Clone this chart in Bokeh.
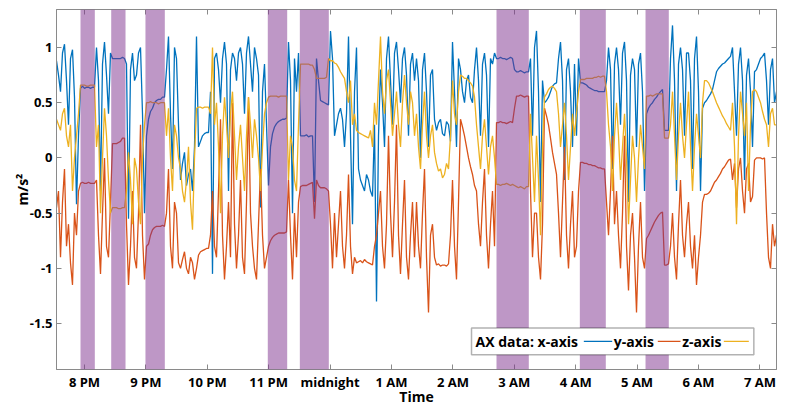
import numpy as np
from bokeh.plotting import figure
from bokeh.models import Range1d, FixedTicker, BoxAnnotation, Label, LinearAxis
from bokeh.embed import file_html
from bokeh.resources import INLINE

# ---- data (time in hours; 24 = midnight) ----
t_start = 19.544          # first sample time (h)
t_step = 0.032573         # sampling step (h)

x_axis = [
    0.88, 0.75, 0.60, 0.95, 1.03, 0.70, 0.30, 0.90, 0.98, 0.55, -0.42, 0.20, 0.63, 0.65, 0.63, 0.64, 0.64, 0.63, 0.64, 0.64,
    1.00, 0.70, -0.30, 0.85, 1.05, 0.75, 0.40, 0.95, 0.90, 0.90, 0.90, 0.90, 0.90, 0.91, 0.90, 0.85, -0.55, 0.80, 0.95, 0.70,
    0.75, 0.95, 1.00, 0.40, -0.50, 0.20, 0.35, 0.42, 0.45, 0.50, 0.52, 0.53, 0.53, 0.55, 0.55, 0.80, 1.10, 0.40, -0.10, 1.00,
    0.90, 0.30, -0.20, -0.05, 0.05, -0.25, -0.15, -0.10, -0.30, 0.10, 1.10, 0.10, 0.15, 0.20, 0.22, 0.23, 0.23, 0.60, -1.05, 0.90,
    0.95, 0.80, 0.50, 0.90, 1.05, 0.85, -0.30, 0.80, 0.95, 0.90, 0.70, 0.95, 1.00, 0.85, 0.40, 0.95, 1.10, 0.85, 0.60, 1.00,
    0.90, 0.75, -0.45, 0.60, 0.85, 0.30, -0.25, 0.10, 0.22, 0.28, 0.31, 0.33, 0.34, 0.35, 0.35, 0.36, 1.05, 0.70, -0.50, 0.90,
    0.60, 0.95, 0.20, 0.20, 0.20, 0.21, 0.19, 0.20, 0.20, -0.40, 0.90, 0.70, 0.52, 0.51, 0.50, 0.49, 0.48, 1.15, 0.90, 0.20,
    0.30, 0.40, 0.45, 0.35, 0.10, 0.40, 1.10, 0.20, -0.60, 0.60, 1.00, -0.10, -0.20, -0.25, -0.30, -0.15, -0.20, -0.30, -0.35, 0.30,
    -1.30, 0.20, 0.80, 0.50, 0.10, 0.90, 1.10, 0.70, 0.30, 0.95, 1.05, 0.80, 0.50, 0.90, 1.00, 0.75, 0.20, 0.85, 0.95, 0.70,
    0.90, 0.70, 0.00, 0.80, 0.95, 0.60, 0.10, 0.75, 0.80, 0.35, 0.25, 0.32, 0.35, 0.22, 0.20, 0.33, 0.30, 0.15, 1.05, 0.60,
    0.10, 0.90, 0.80, 0.60, 0.50, 0.70, 0.75, 0.55, 0.50, 0.80, 1.00, 0.70, 0.20, 0.85, 0.95, 0.75, 0.10, 0.90, 0.85, 0.95,
    0.90, 0.90, 0.91, 0.90, 0.90, 0.89, 0.90, 0.91, 0.90, 0.80, 0.78, 0.78, 0.79, 0.78, 0.77, 0.78, 0.78, 0.90, 0.20, 1.00,
    1.15, 0.60, -0.40, 0.70, 0.50, 0.52, 0.55, 0.60, 0.65, 0.67, 0.68, 0.90, 1.05, 0.70, -0.20, 0.80, 0.90, 0.60, 0.10, 0.85,
    0.20, 0.90, 0.68, 0.68, 0.67, 0.66, 0.64, 0.63, 0.62, 0.61, 0.61, 0.60, 0.60, 0.60, 0.60, 0.70, 1.00, 0.80, -0.10, 0.85,
    1.00, 0.80, 0.30, 0.95, 1.05, 0.70, -0.40, 0.75, 0.90, 0.80, 0.10, 0.85, 0.95, 0.60, -0.30, 0.40, 0.45, 0.48, 0.50, 0.53,
    0.55, 0.58, 0.60, 0.62, 0.25, 0.25, 0.25, 0.90, 1.20, 0.70, -0.30, 0.85, 1.00, 0.80, 0.20, 0.95, 0.95, 0.70, -0.10, 0.90,
    1.10, 0.60, -0.30, 0.45, 0.50, 0.52, 0.55, 0.58, 0.62, 0.70, 0.78, 0.81, 0.83, 0.85, 0.86, 0.88, 0.90, 0.92, 1.00, 0.60,
    0.20, 0.85, 1.00, 0.70, -0.20, 0.75, 0.90, 0.60, 0.10, 0.78, 0.80, 0.85, 0.90, 0.92, 0.95, 0.70, 0.30, 0.80, 0.90, 0.50,
    0.60,
]

y_axis = [
    -0.45, -0.30, -0.90, -0.40, -0.10, -0.80, -0.60, -0.95, -1.15, -0.50, -0.70, -0.30, -0.23, -0.22, -0.23, -0.23, -0.22, -0.23, -0.23, -0.23,
    -0.20, -0.70, -1.05, -0.50, 0.00, -0.80, -0.90, -0.40, 0.13, 0.13, 0.13, 0.14, 0.15, 0.18, 0.18, -0.60, -1.15, -0.80, -0.30, -0.90,
    -1.00, -0.50, 0.30, -0.70, -1.10, -0.80, -0.78, -0.70, -0.65, -0.63, -0.62, -0.62, -0.62, -0.61, -0.62, -0.50, -0.10, -0.80, -1.00, -0.40,
    -0.50, -0.95, -1.00, -0.92, -0.85, -1.00, -1.05, -0.90, -0.95, -1.10, -1.00, -0.88, -0.85, -0.84, -0.83, -0.82, -0.82, -0.70, -0.30, -0.80,
    -0.90, -0.30, 0.35, -0.70, -1.10, -0.80, -0.40, -0.90, 0.50, -0.60, -1.00, -0.70, -0.20, -0.90, -1.05, -0.40, 0.55, -0.50, -0.80, -1.00,
    -1.10, -0.60, -0.10, -0.70, -1.00, -0.90, -0.80, -0.75, -0.72, -0.70, -0.69, -0.68, -0.68, -0.68, -0.68, -0.67, -0.20, -0.70, -1.10, -0.50,
    -0.90, -0.40, -0.26, -0.25, -0.25, -0.25, -0.24, -0.23, -0.22, -0.55, -0.20, -0.25, -0.27, -0.27, -0.27, -0.28, -0.30, -0.60, -1.00, -0.50,
    -0.90, -0.60, -0.30, -0.80, -1.00, -0.70, -0.15, -0.80, -1.05, -0.90, -0.95, -0.94, -0.93, -0.95, -0.92, -0.94, -0.95, -0.96, -0.97, -0.80,
    -0.70, -0.50, -0.30, -0.80, -1.00, -0.60, 0.20, -0.50, -0.90, -0.40, 0.30, -0.70, -1.05, -0.60, -0.20, -0.90, -1.10, -0.70, -0.40, -0.90,
    -0.40, -0.80, -1.00, -0.50, -0.10, -0.90, -1.40, -0.70, -0.60, -0.90, -0.97, -0.96, -0.98, -0.97, -0.97, -0.98, -0.96, -0.70, -0.20, -0.80,
    -1.10, -0.40, 0.35, 0.28, 0.20, 0.10, 0.00, -0.08, -0.15, -0.25, -0.30, -0.60, -0.80, -0.40, -0.10, -0.70, -1.00, -0.60, -0.30, -0.80,
    0.32, 0.32, 0.33, 0.32, 0.32, 0.31, 0.32, 0.33, 0.32, 0.45, 0.56, 0.56, 0.57, 0.56, 0.55, 0.56, 0.56, -0.30, -0.90, -0.50,
    -0.50, -0.90, -1.10, -0.60, 0.45, 0.38, 0.30, 0.18, 0.05, -0.05, -0.15, -0.50, -0.90, -0.40, 0.10, -0.70, -1.00, -0.60, -0.30, -0.90,
    -0.80, -0.30, -0.04, -0.04, -0.05, -0.05, -0.06, -0.06, -0.07, -0.07, -0.08, -0.09, -0.09, -0.10, -0.10, -0.40, -0.70, -0.30, 0.20, -0.60,
    -0.30, -0.70, -1.00, -0.50, 0.20, -0.80, -1.20, -0.70, -0.50, -0.90, -1.40, -0.80, -0.40, -0.90, -1.00, -0.73, -0.70, -0.66, -0.62, -0.58,
    -0.55, -0.52, -0.50, -0.49, -0.97, -0.97, -0.96, -0.80, -0.50, -0.90, -1.10, -0.60, -0.20, -0.70, -0.90, -0.60, -0.40, -0.80, -1.00, -0.70,
    -1.15, -0.90, -0.70, -0.40, -0.33, -0.33, -0.32, -0.30, -0.26, -0.22, -0.20, -0.17, -0.14, -0.10, -0.08, -0.05, -0.02, -0.01, -0.20, -0.05,
    -0.45, -0.10, 0.00, -0.30, -0.50, -0.10, -0.05, -0.40, -0.35, -0.02, 0.00, 0.00, 0.00, -0.01, 0.00, -0.50, -0.90, -1.00, -0.60, -0.80,
    -0.70,
]

z_axis = [
    0.35, 0.30, 0.25, 0.40, 0.45, 0.20, 0.10, 0.30, -0.30, 0.00, 0.20, 0.40, 0.66, 0.66, 0.66, 0.65, 0.65, 0.66, 0.66, 0.66,
    0.10, 0.30, -0.50, 0.00, 0.45, 0.20, -0.20, -0.50, -0.45, -0.45, -0.45, -0.46, -0.46, -0.45, -0.45, -0.30, 0.05, -0.20, -0.60, 0.00,
    -0.10, -0.40, -0.60, 0.00, 0.30, 0.50, 0.50, 0.51, 0.50, 0.50, 0.50, 0.49, 0.50, 0.50, 0.50, 0.20, 0.45, 0.00, -0.30, 0.30,
    0.20, 0.00, -0.10, -0.30, -0.40, -0.20, 0.10, -0.40, -0.65, 0.00, 0.45, 0.46, 0.46, 0.45, 0.46, 0.46, 0.46, 0.40, 1.00, 0.30,
    0.50, 0.10, -0.50, 0.20, 0.55, 0.30, 0.00, 0.40, 0.60, 0.20, -0.20, 0.10, 0.30, 0.00, -0.30, 0.20, 0.55, 0.30, 0.00, 0.35,
    0.20, 0.00, -0.30, 0.10, 0.40, 0.50, 0.55, 0.56, 0.56, 0.56, 0.56, 0.55, 0.56, 0.56, 0.56, 0.56, -0.20, 0.20, 0.10, -0.20,
    -0.30, 0.30, 0.85, 0.85, 0.85, 0.85, 0.85, 0.84, 0.84, 0.80, 0.72, 0.72, 0.72, 0.72, 0.72, 0.73, 0.90, 0.88, 0.88, 0.86,
    0.85, 0.82, 0.78, 0.75, 0.72, 0.60, 0.50, 0.70, 0.30, 0.40, 0.25, 0.23, 0.22, 0.21, 0.20, 0.19, 0.18, 0.25, 0.10, 0.50,
    0.30, 0.70, 1.10, 0.60, 0.40, 0.70, 0.80, 0.50, 0.20, 0.40, 0.60, 0.30, 0.10, 0.50, 0.75, 0.50, 0.30, 0.60, 0.50, 0.20,
    0.40, 0.10, -0.10, 0.30, 0.60, 0.20, 0.00, 0.20, 0.30, 0.05, -0.05, -0.12, -0.10, -0.18, -0.15, -0.05, -0.10, 0.20, 0.70, 0.40,
    0.30, 0.60, 0.75, 0.74, 0.72, 0.72, 0.70, 0.68, 0.65, 0.55, 0.30, 0.10, -0.10, 0.20, 0.35, 0.10, -0.15, 0.10, 0.20, 0.00,
    -0.24, -0.24, -0.25, -0.24, -0.24, -0.23, -0.24, -0.25, -0.24, -0.25, -0.26, -0.27, -0.26, -0.27, -0.28, -0.26, -0.26, 0.40, 0.00, -0.40,
    0.20, -0.20, -0.70, 0.10, 0.55, 0.58, 0.62, 0.64, 0.65, 0.63, 0.60, 0.40, 0.10, 0.30, 0.50, 0.20, -0.20, 0.10, 0.40, 0.20,
    0.40, 0.60, 0.71, 0.71, 0.71, 0.72, 0.72, 0.72, 0.72, 0.73, 0.73, 0.74, 0.73, 0.74, 0.74, 0.60, 0.30, 0.10, -0.30, 0.20,
    0.50, 0.20, -0.20, 0.10, 0.40, 0.00, -0.60, -0.20, 0.20, 0.00, -0.40, 0.00, 0.30, 0.10, -0.10, 0.56, 0.56, 0.57, 0.56, 0.57,
    0.58, 0.58, 0.58, 0.58, 0.18, 0.18, 0.18, 0.30, 0.60, 0.20, -0.20, 0.20, 0.50, 0.20, 0.00, 0.30, 0.60, 0.10, -0.30, 0.10,
    0.40, 0.20, 0.00, 0.50, 0.70, 0.70, 0.68, 0.64, 0.60, 0.55, 0.50, 0.46, 0.42, 0.38, 0.35, 0.31, 0.28, 0.25, 0.50, 0.10,
    -0.60, 0.20, 0.60, 0.40, 0.20, 0.50, -0.30, 0.30, 0.60, 0.62, 0.60, 0.55, 0.50, 0.42, 0.35, 0.30, 0.10, 0.40, 0.45, 0.30,
    0.30,
]

# shaded periods (hours)
band_start = [19.935, 20.435, 20.993, 22.985, 23.507, 26.710, 28.067, 29.137]
band_end   = [20.168, 20.668, 21.308, 23.301, 23.979, 27.236, 28.490, 29.516]

hour_ticks = [20, 21, 22, 23, 24, 25, 26, 27, 28, 29, 30, 31]
hour_labels = ["8 PM", "9 PM", "10 PM", "11 PM", "midnight", "1 AM",
               "2 AM", "3 AM", "4 AM", "5 AM", "6 AM", "7 AM"]
y_ticks = [-1.5, -1, -0.5, 0, 0.5, 1]
y_labels = ["-1.5", "-1", "-0.5", "0", "0.5", "1"]

series_names = ["x-axis", "y-axis", "z-axis"]
series_colors = ["#0072BD", "#D95319", "#EDB120"]

FONT = "Open Sans"
FRAME = "#8a8a8a"

p = figure(width=800, height=411, output_backend="svg", toolbar_location=None,
           x_range=Range1d(19.544, 31.270), y_range=Range1d(-1.916, 1.344),
           min_border_left=56, min_border_right=24, min_border_top=9,
           min_border_bottom=42)
p.xgrid.visible = False
p.ygrid.visible = False
p.outline_line_color = FRAME
p.background_fill_color = "white"
p.border_fill_color = "white"

for vals, col in zip([x_axis, y_axis, z_axis], series_colors):
    t = t_start + t_step * np.arange(len(vals))
    p.line(t, vals, line_color=col, line_width=1.3)

for s, e in zip(band_start, band_end):
    p.add_layout(BoxAnnotation(left=s, right=e, fill_color="#7E2F8E",
                               fill_alpha=0.5, line_alpha=0, level="annotation"))

def style_axis(ax, labels=True):
    ax.axis_line_color = FRAME
    ax.major_tick_line_color = FRAME
    ax.major_tick_in = 5
    ax.major_tick_out = 0
    ax.minor_tick_line_color = None
    ax.major_label_text_font = FONT
    ax.major_label_text_font_style = "bold"
    ax.major_label_text_font_size = "13px"
    ax.major_label_text_color = "black"
    if not labels:
        ax.major_label_text_font_size = "0px"
        ax.major_label_text_color = None
        ax.major_label_text_alpha = 0
        ax.major_label_standoff = 0

p.xaxis.ticker = FixedTicker(ticks=hour_ticks)
p.yaxis.ticker = FixedTicker(ticks=y_ticks)
p.xaxis.major_label_overrides = dict(zip(hour_ticks, hour_labels))
p.yaxis.major_label_overrides = dict(zip(y_ticks, y_labels))
style_axis(p.xaxis[0])
style_axis(p.yaxis[0])
p.xaxis.major_label_standoff = 3
p.yaxis.major_label_standoff = 4

p.xaxis.axis_label = "Time"
p.yaxis.axis_label = "m/s²"
for ax in (p.xaxis[0], p.yaxis[0]):
    ax.axis_label_text_font = FONT
    ax.axis_label_text_font_style = "bold"
    ax.axis_label_text_font_size = "14px"
    ax.axis_label_text_color = "black"
p.xaxis.axis_label_standoff = -7
p.yaxis.axis_label_standoff = -5

top = LinearAxis(ticker=FixedTicker(ticks=hour_ticks))
style_axis(top, labels=False)
p.add_layout(top, "above")
right = LinearAxis(ticker=FixedTicker(ticks=y_ticks))
style_axis(right, labels=False)
p.add_layout(right, "right")

# legend (drawn manually: each text precedes its line sample)
p.add_layout(BoxAnnotation(left=26.303, right=30.901, bottom=-1.783, top=-1.541,
                           fill_color="white", fill_alpha=1.0,
                           line_color="black", line_width=1.5, level="annotation"))
leg_text_x = [26.368, 28.620, 29.735]
leg_texts = ["AX data: x-axis", "y-axis", "z-axis"]
leg_line_x0 = [28.132, 29.337, 30.412]
leg_line_x1 = [28.594, 29.707, 30.819]
for tx, tt in zip(leg_text_x, leg_texts):
    p.add_layout(Label(x=tx, y=-1.662, text=tt, text_font=FONT,
                       text_font_style="bold", text_font_size="14px",
                       text_baseline="middle", text_align="left",
                       text_color="black", level="annotation"))
for x0, x1, col in zip(leg_line_x0, leg_line_x1, series_colors):
    p.add_layout(BoxAnnotation(left=x0, right=x1, bottom=-1.668, top=-1.656,
                               fill_color=col, fill_alpha=1.0, line_alpha=0,
                               level="annotation"))

open("out.html", "w").write(file_html(p, INLINE))
